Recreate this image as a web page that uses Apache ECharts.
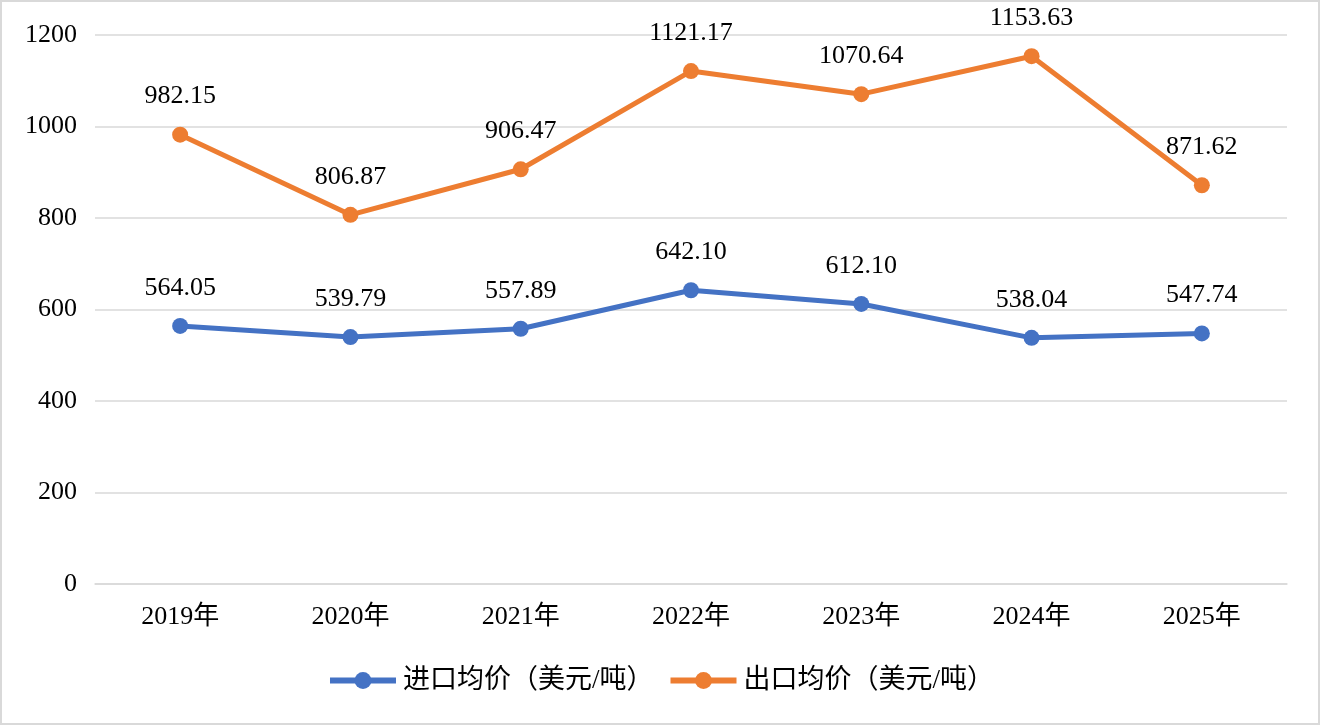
<!DOCTYPE html>
<html><head><meta charset="utf-8">
<script src="https://cdn.jsdelivr.net/npm/echarts@6/dist/echarts.min.js"></script>
<style>html,body{margin:0;padding:0;background:#fff}#c{width:1321px;height:726px}</style>
</head><body><div id="c"></div>
<script>
const categories = ['2019年','2020年','2021年','2022年','2023年','2024年','2025年'];
const importPrice = [564.05, 539.79, 557.89, 642.10, 612.10, 538.04, 547.74];
const exportPrice = [982.15, 806.87, 906.47, 1121.17, 1070.64, 1153.63, 871.62];
const seriesNames = ['进口均价（美元/吨）','出口均价（美元/吨）'];
const yTicks = {min:0, max:1200, interval:200};

const FONT = '"Liberation Serif","Times New Roman","Noto Sans CJK SC",serif';
const chart = echarts.init(document.getElementById('c'));
function mk(name, data, color){
  return {
    name, type:'line', data, symbol:'circle', symbolSize:16,
    itemStyle:{color}, lineStyle:{color, width:5},
    label:{show:true, position:'top', distance:17, color:'#000', fontSize:26, fontFamily:FONT,
      formatter: p => p.value.toFixed(2)}
  };
}
chart.setOption({
  animation:false,
  textStyle:{fontFamily:FONT},
  graphic:[{type:'rect', shape:{x:1,y:1,width:1318,height:723}, style:{fill:'none', stroke:'#d9d9d9', lineWidth:2}, silent:true}],
  grid:{left:95, right:34, top:35, bottom:142},
  legend:{bottom:27, left:'center', itemWidth:66, itemHeight:21, itemGap:14,
    lineStyle:{width:6},
    textStyle:{fontSize:27, color:'#000', fontFamily:FONT, padding:[0,0,0,2]},
    data:seriesNames},
  xAxis:{type:'category', data:categories, boundaryGap:true,
    axisLine:{show:true, lineStyle:{color:'#d9d9d9', width:1.5}}, axisTick:{show:false},
    axisLabel:{fontSize:26, color:'#000', margin:20, fontFamily:FONT}},
  yAxis:{type:'value', min:yTicks.min, max:yTicks.max, interval:yTicks.interval,
    axisLine:{show:false}, axisTick:{show:false},
    splitLine:{lineStyle:{color:'#d9d9d9', width:1.5}},
    axisLabel:{fontSize:26, color:'#000', margin:18, fontFamily:FONT, formatter: v => String(v)}},
  series:[mk(seriesNames[0], importPrice, '#4472C4'), mk(seriesNames[1], exportPrice, '#ED7D31')]
});
</script></body></html>
